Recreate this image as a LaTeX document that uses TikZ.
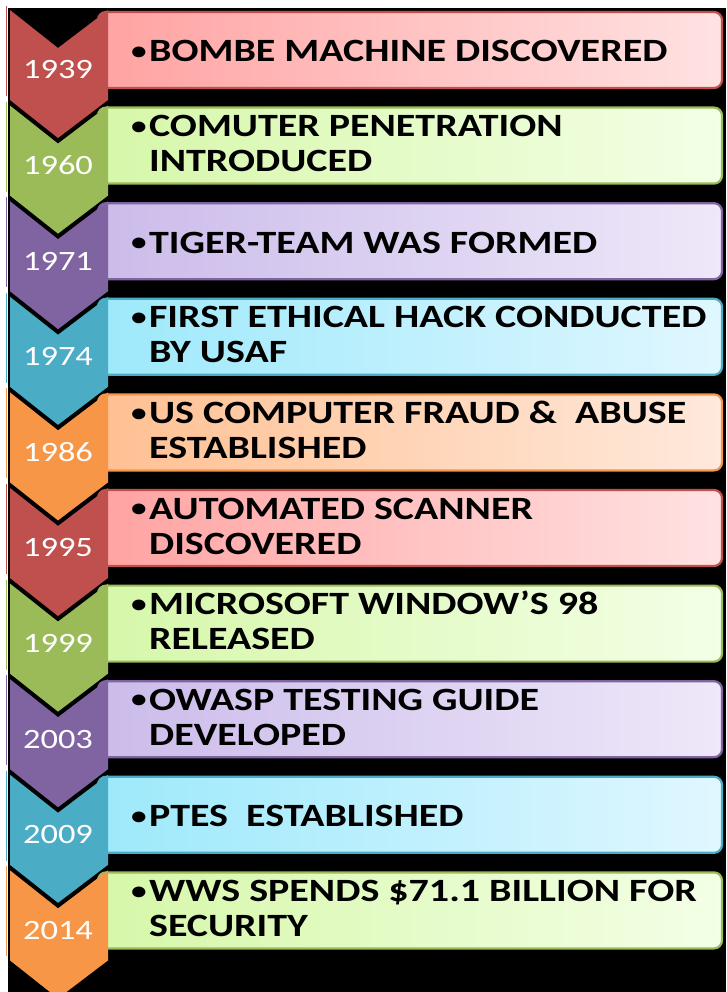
\documentclass[tikz,border=0pt]{standalone}
\usepackage{fontspec}
\setmainfont{Carlito}
\definecolor{chRed}{HTML}{C0504D}
\definecolor{chGreen}{HTML}{9BBB59}
\definecolor{chPurple}{HTML}{8064A2}
\definecolor{chTeal}{HTML}{4BACC6}
\definecolor{chOrange}{HTML}{F79646}
\definecolor{bxRedL}{HTML}{FFA3A2}
\definecolor{bxRedR}{HTML}{FFE2E2}
\definecolor{bxGreenL}{HTML}{D6F7A9}
\definecolor{bxGreenR}{HTML}{F3FFE6}
\definecolor{bxPurpleL}{HTML}{CBBBEA}
\definecolor{bxPurpleR}{HTML}{EEE8F9}
\definecolor{bxTealL}{HTML}{9DE9FB}
\definecolor{bxTealR}{HTML}{E0F7FF}
\definecolor{bxOrangeL}{HTML}{FFC092}
\definecolor{bxOrangeR}{HTML}{FFE9DC}
\tikzset{
  yearlabel/.style={text=white, inner sep=0pt, font=\fontsize{28}{30}\selectfont},
  itemline/.style={anchor=base west, inner sep=0pt, text=black, font=\fontsize{32.5}{36}\selectfont\bfseries},
}
\newcommand\tlscale[1]{\scalebox{1.23}[1]{#1}}
\newcommand\tlbullet{\raisebox{0.07em}{\scalebox{0.78}{•}}\hspace{0.06em}}
% #1 index, #2 year, #3 chevron colour, #4 box colour key, #5 line 1, #6 line 2 (empty = single line)
\newcommand\tlrow[6]{%
  \pgfmathsetmacro\yt{10+95.6*#1}%
  \pgfmathsetmacro\yb{\yt+2}%
  \pgfmathsetmacro\ye{\yt+78}%
  \shade[left color=bx#4L, right color=bx#4R, rounded corners=8pt] (98,\yb) rectangle (722,\ye);
  \draw[ch#4, line width=2.2pt, rounded corners=8pt] (98,\yb) rectangle (722,\ye);
  \draw[#3, line width=1.5pt] (6.5,\yt-4) -- (6.5,\yt+86);
  \fill[#3] (10,\yt) -- (58,\yt+38) -- (108,\yt) -- (108,\yt+90) -- (58,\yt+128) -- (10,\yt+90) -- cycle;
  \node[yearlabel] (year#1) at (58,\yt+60) {\tlscale{#2}};
  \ifx\relax#6\relax
    \node[itemline] (item#1a) at (131,\yt+52) {\tlscale{\tlbullet#5}};
  \else
    \node[itemline] (item#1a) at (131,\yt+31) {\tlscale{\tlbullet#5}};
    \node[itemline] (item#1b) at (131,\yt+66) {\tlscale{\phantom{\tlbullet}#6}};
  \fi
}
\begin{document}
\begin{tikzpicture}[x=1pt, y=-1pt]
\useasboundingbox (0,0) rectangle (726,992);
\clip (0,0) rectangle (726,992);
\fill[white] (0,0) rectangle (726,992);
\fill[black] (8,8) rectangle (726,992);
\tlrow{0}{1939}{chRed}{Red}{BOMBE MACHINE DISCOVERED}{}
\tlrow{1}{1960}{chGreen}{Green}{COMUTER PENETRATION}{INTRODUCED}
\tlrow{2}{1971}{chPurple}{Purple}{TIGER-TEAM WAS FORMED}{}
\tlrow{3}{1974}{chTeal}{Teal}{FIRST ETHICAL HACK CONDUCTED}{BY USAF}
\tlrow{4}{1986}{chOrange}{Orange}{US COMPUTER FRAUD \&\ \ ABUSE}{ESTABLISHED}
\tlrow{5}{1995}{chRed}{Red}{AUTOMATED SCANNER}{DISCOVERED}
\tlrow{6}{1999}{chGreen}{Green}{MICROSOFT WINDOW'S 98}{RELEASED}
\tlrow{7}{2003}{chPurple}{Purple}{OWASP TESTING GUIDE}{DEVELOPED}
\tlrow{8}{2009}{chTeal}{Teal}{PTES\ \ ESTABLISHED}{}
\tlrow{9}{2014}{chOrange}{Green}{WWS SPENDS \$71.1 BILLION FOR}{SECURITY}
\end{tikzpicture}
\end{document}
